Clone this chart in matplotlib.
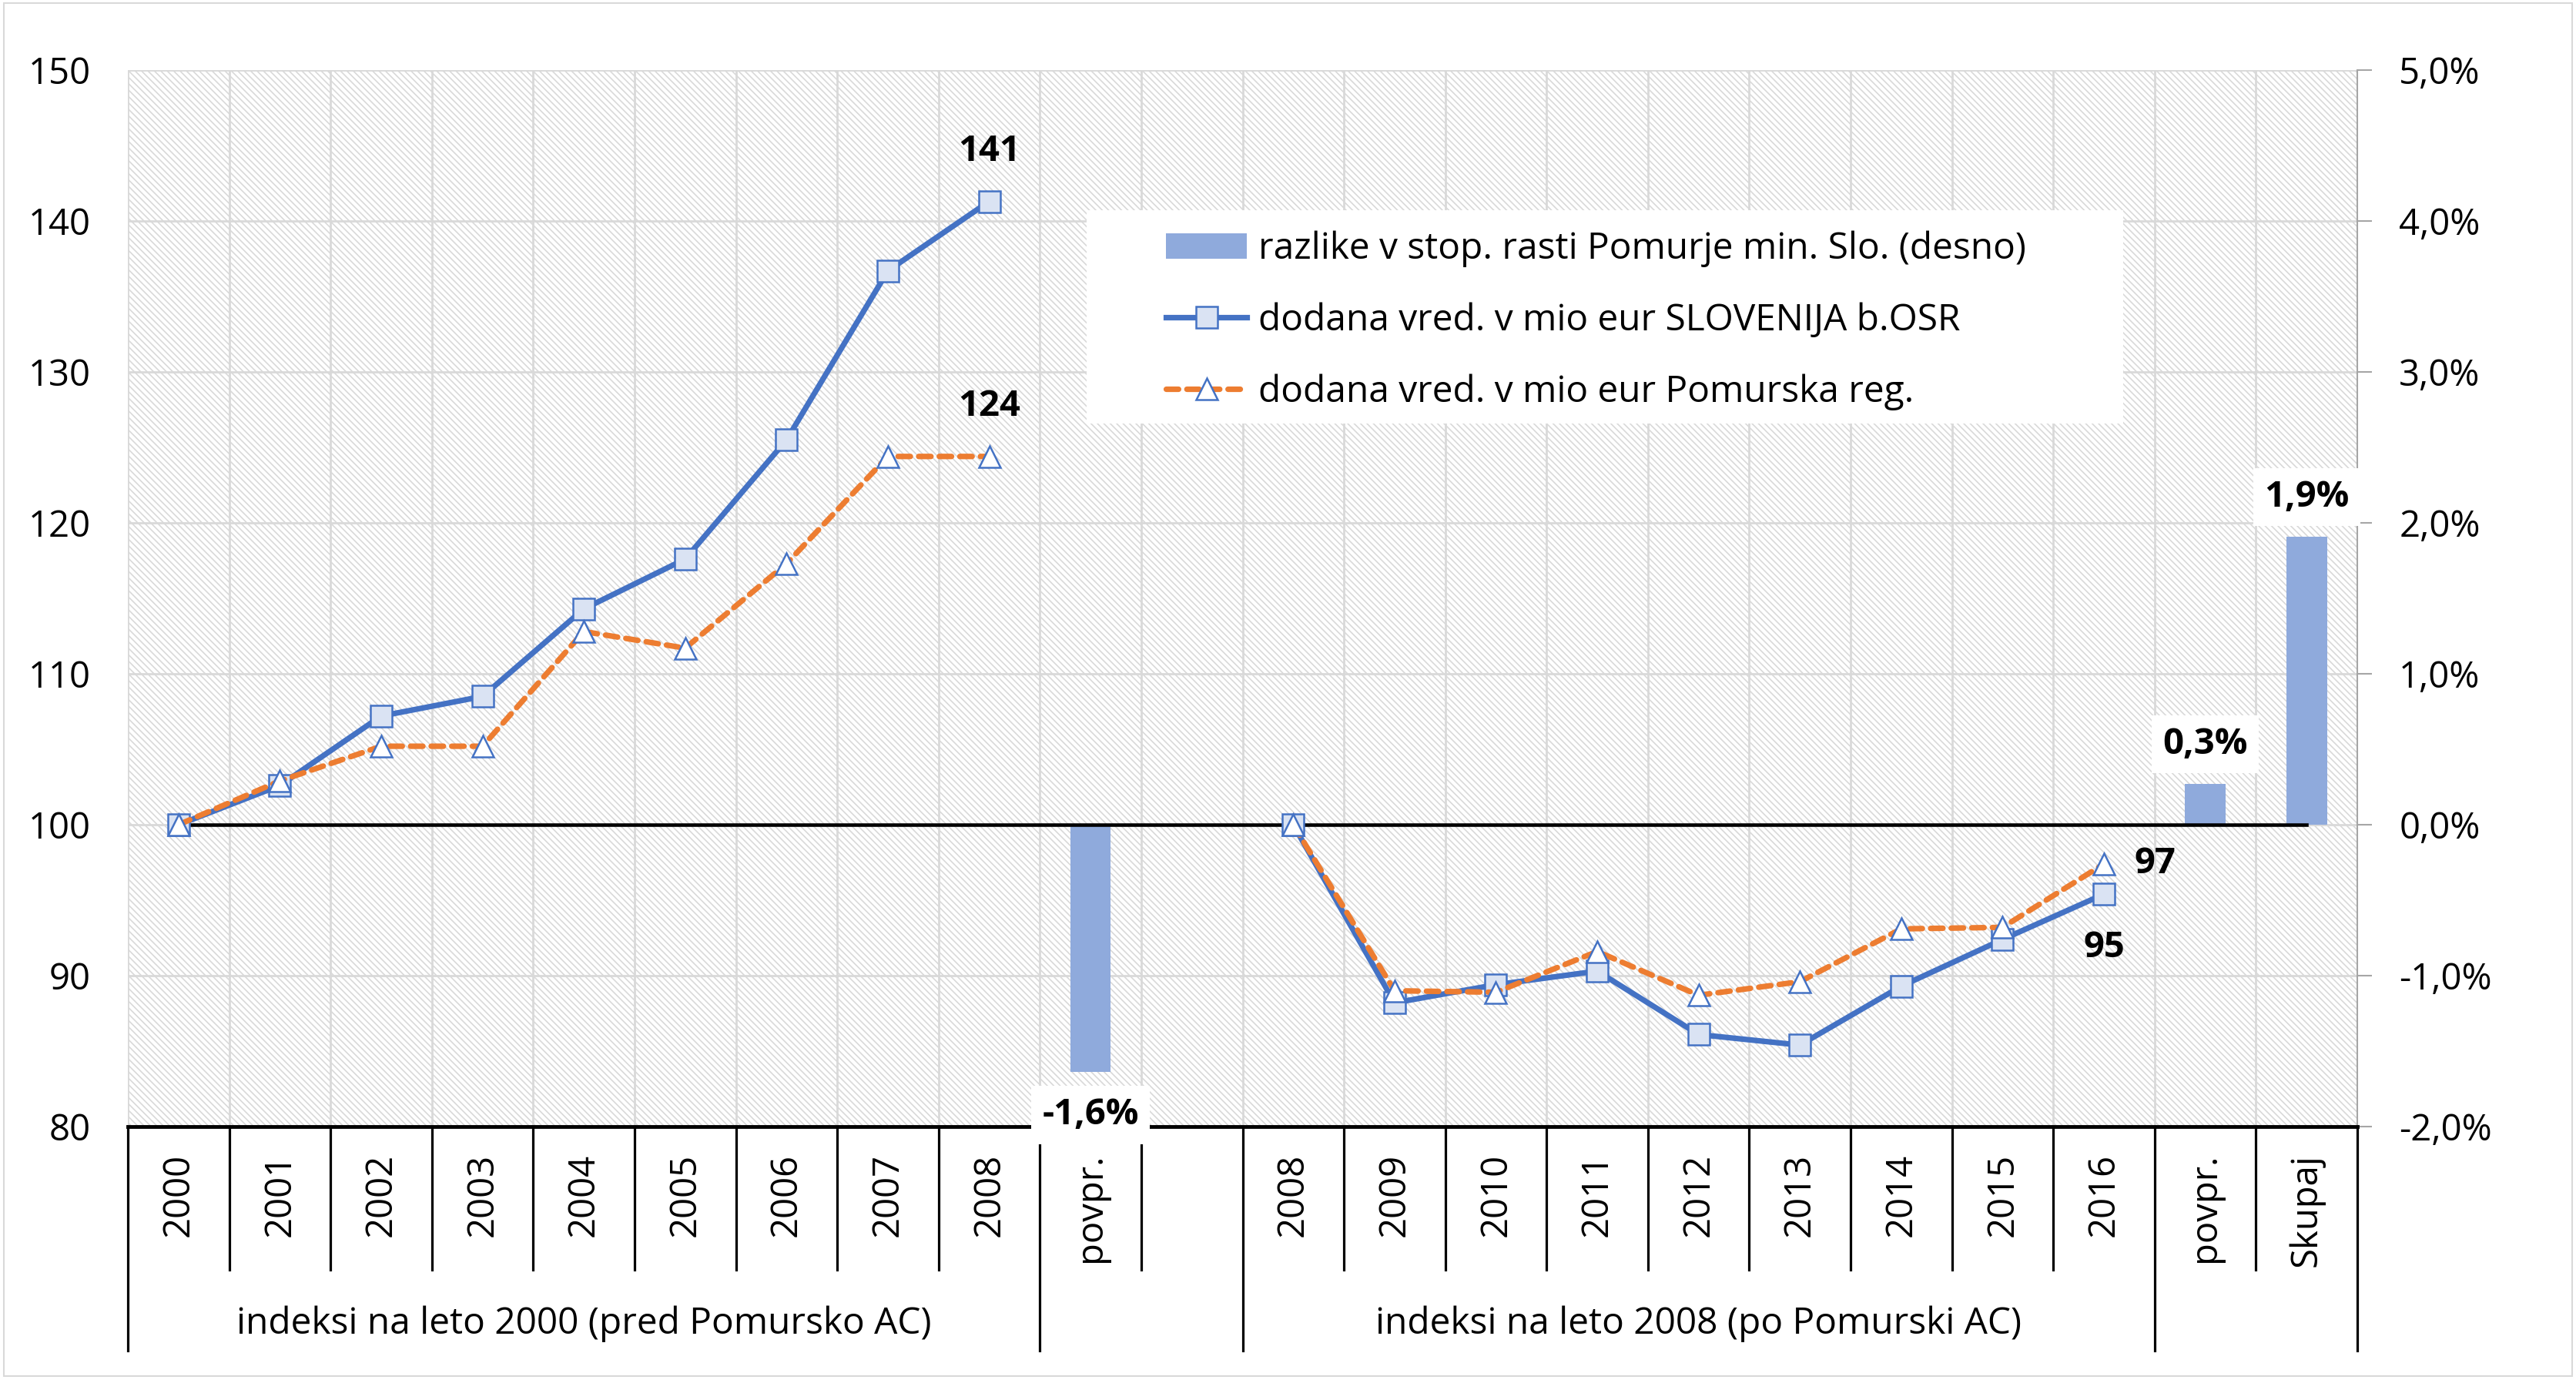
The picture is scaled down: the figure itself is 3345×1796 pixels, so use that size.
import matplotlib
matplotlib.use("Agg")
import matplotlib.pyplot as plt
import matplotlib.transforms as mtransforms
import numpy as np
from matplotlib.lines import Line2D
from matplotlib.patches import Patch, Rectangle
from matplotlib.ticker import FuncFormatter

plt.rcParams['font.family'] = ['Open Sans', 'DejaVu Sans']
plt.rcParams['hatch.linewidth'] = 1.2

# categories (blank one separates the two periods)
cats = ['2000', '2001', '2002', '2003', '2004', '2005', '2006', '2007', '2008', 'povpr.', '',
        '2008', '2009', '2010', '2011', '2012', '2013', '2014', '2015', '2016', 'povpr.', 'Skupaj']
group_names = ['indeksi na leto 2000 (pred Pomursko AC)', 'indeksi na leto 2008 (po Pomurski AC)']
group_first = [0, 11]
group_last = [8, 19]

# indices of value added
slo_pre = [100, 102.6, 107.2, 108.5, 114.3, 117.6, 125.5, 136.7, 141.3]
pom_pre = [100, 102.9, 105.2, 105.2, 112.8, 111.7, 117.3, 124.4, 124.4]
slo_post = [100, 88.2, 89.4, 90.3, 86.1, 85.4, 89.3, 92.4, 95.4]
pom_post = [100, 89.0, 88.9, 91.6, 88.7, 89.6, 93.1, 93.2, 97.4]

# difference in growth rates Pomurje minus Slovenia, %
nan = np.nan
diff = [nan] * 9 + [-1.64, nan] + [nan] * 9 + [0.27, 1.91]

slo = np.array(slo_pre + [nan, nan] + slo_post + [nan, nan])
pom = np.array(pom_pre + [nan, nan] + pom_post + [nan, nan])
diff = np.array(diff)
x = np.arange(len(cats))

BLUE = '#4472C4'
ORANGE = '#ED7D31'
BAR = '#8FAADC'
LIGHT = '#DAE3F3'
GRID = '#D9D9D9'
LW = 5.2
MS = 20.5

fig = plt.figure(figsize=(33.45, 17.96), dpi=100)
ax = fig.add_axes([166 / 3345, 1 - 1463 / 1796, (3061 - 166) / 3345, (1463 - 91) / 1796])
ax2 = ax.twinx()
ax.set_zorder(ax2.get_zorder() + 1)
ax.patch.set_visible(False)

# bottom layer: hatched background, grid, bars
ax2.add_patch(Rectangle((0, 0), 1, 1, transform=ax2.transAxes, facecolor='white',
                        edgecolor=GRID, hatch='\\\\\\\\', linewidth=0, zorder=0))
ax2.set_axisbelow(True)
ax2.grid(axis='y', color=GRID, lw=2)
for b in np.arange(len(cats) + 1) - 0.5:
    ax2.axvline(b, color=GRID, lw=2, zorder=0.6)
ax2.bar(x, diff, width=0.4, color=BAR, zorder=2)

ax2.set_ylim(-2, 5)
ax2.set_yticks(np.arange(-2, 6, 1))
ax2.yaxis.set_major_formatter(FuncFormatter(lambda v, p: f"{v:.1f}%".replace('.', ',')))
ax2.tick_params(axis='y', direction='out', length=14, width=1.5, color='#A6A6A6',
                labelsize=34, pad=25)
for s in ['left', 'top']:
    ax2.spines[s].set_visible(False)
ax2.spines['right'].set_color('#A6A6A6')
ax2.spines['right'].set_linewidth(1.5)
ax2.spines['bottom'].set_color('black')
ax2.spines['bottom'].set_linewidth(3.5)

for xi, v in zip(x, diff):
    if np.isnan(v):
        continue
    off = 37 if v > 0 else -40
    ax2.annotate(f"{v:.1f}%".replace('.', ','), (xi, v), xytext=(0, off), textcoords='offset points',
                 ha='center', va='center', fontsize=34, fontweight='bold', zorder=6,
                 annotation_clip=False,
                 bbox=dict(boxstyle='square,pad=0.3', fc='white', ec='none'))

# legend box background
ax2.add_patch(Rectangle((0.430, 0.6655), 0.465, 0.2015, transform=ax2.transAxes,
                        facecolor='white', edgecolor='none', zorder=4))

# category axis: labels and separators
trans = mtransforms.blended_transform_factory(ax2.transData, ax2.transAxes)
for xi, c in zip(x, cats):
    ax2.text(xi, -0.0255, c, rotation=90, ha='center', va='top', fontsize=34,
             transform=trans, clip_on=False)
long_b = [-0.5, len(cats) - 0.5]
for f, l in zip(group_first, group_last):
    long_b += [f - 0.5, l + 0.5]
for b in np.arange(len(cats) + 1) - 0.5:
    y_end = -0.212 if b in long_b else -0.1356
    ax2.plot([b, b], [0, y_end], color='black', lw=2.3, transform=trans, clip_on=False, zorder=3)
for name, f, l in zip(group_names, group_first, group_last):
    ax2.text((f + l) / 2, -0.187, name, ha='center', va='center', fontsize=34.5,
             transform=trans, clip_on=False)

# top layer: lines
ax.plot(x, [100] * len(cats), color='black', lw=3.3, zorder=2)
ax.plot(x, slo, color=BLUE, lw=LW, marker='s', ms=MS, mfc=LIGHT, mec=BLUE, mew=1.8, zorder=3)
ax.plot(x, pom, color=ORANGE, lw=LW, ls=(0, (2.2, 1.5)), dash_capstyle='round',
        marker='^', ms=MS, mfc='white', mec=BLUE, mew=1.8, zorder=4)

ax.set_xlim(-0.5, len(cats) - 0.5)
ax.set_ylim(80, 150)
ax.set_yticks(np.arange(80, 151, 10))
ax.set_xticks([])
ax.tick_params(axis='y', length=0, labelsize=34, pad=35)
for s in ax.spines.values():
    s.set_visible(False)

i_pre = len(slo_pre) - 1
i_post = len(cats) - 3
ax.annotate(f"{slo[i_pre]:.0f}", (i_pre, slo[i_pre]), xytext=(0, 47), textcoords='offset points',
            ha='center', va='center', fontsize=34, fontweight='bold')
ax.annotate(f"{pom[i_pre]:.0f}", (i_pre, pom[i_pre]), xytext=(0, 47), textcoords='offset points',
            ha='center', va='center', fontsize=34, fontweight='bold')
ax.annotate(f"{pom[i_post]:.0f}", (i_post, pom[i_post]), xytext=(48, 0), textcoords='offset points',
            ha='center', va='center', fontsize=34, fontweight='bold')
ax.annotate(f"{slo[i_post]:.0f}", (i_post, slo[i_post]), xytext=(0, -50), textcoords='offset points',
            ha='center', va='center', fontsize=34, fontweight='bold')

handles = [Patch(facecolor=BAR),
           Line2D([], [], color=BLUE, lw=LW, marker='s', ms=MS, mfc=LIGHT, mec=BLUE, mew=1.8),
           Line2D([], [], color=ORANGE, lw=LW, ls=(0, (2.2, 1.5)), dash_capstyle='round',
                  marker='^', ms=MS, mfc='white', mec=BLUE, mew=1.8)]
labels = ['razlike v stop. rasti Pomurje min. Slo. (desno)',
          'dodana vred. v mio eur SLOVENIJA b.OSR',
          'dodana vred. v mio eur Pomurska reg.']
leg = ax.legend(handles, labels, frameon=False, loc='upper left', bbox_to_anchor=(0.4656, 0.848),
                borderpad=0, borderaxespad=0, handlelength=2.2, handletextpad=0.3,
                labelspacing=0.95, fontsize=34.5)

fig.patches.append(Rectangle((0.0015, 0.005), 0.997, 0.993, transform=fig.transFigure,
                             fill=False, edgecolor=GRID, lw=1.5))

fig.savefig('out.png', dpi=100, facecolor='white')
